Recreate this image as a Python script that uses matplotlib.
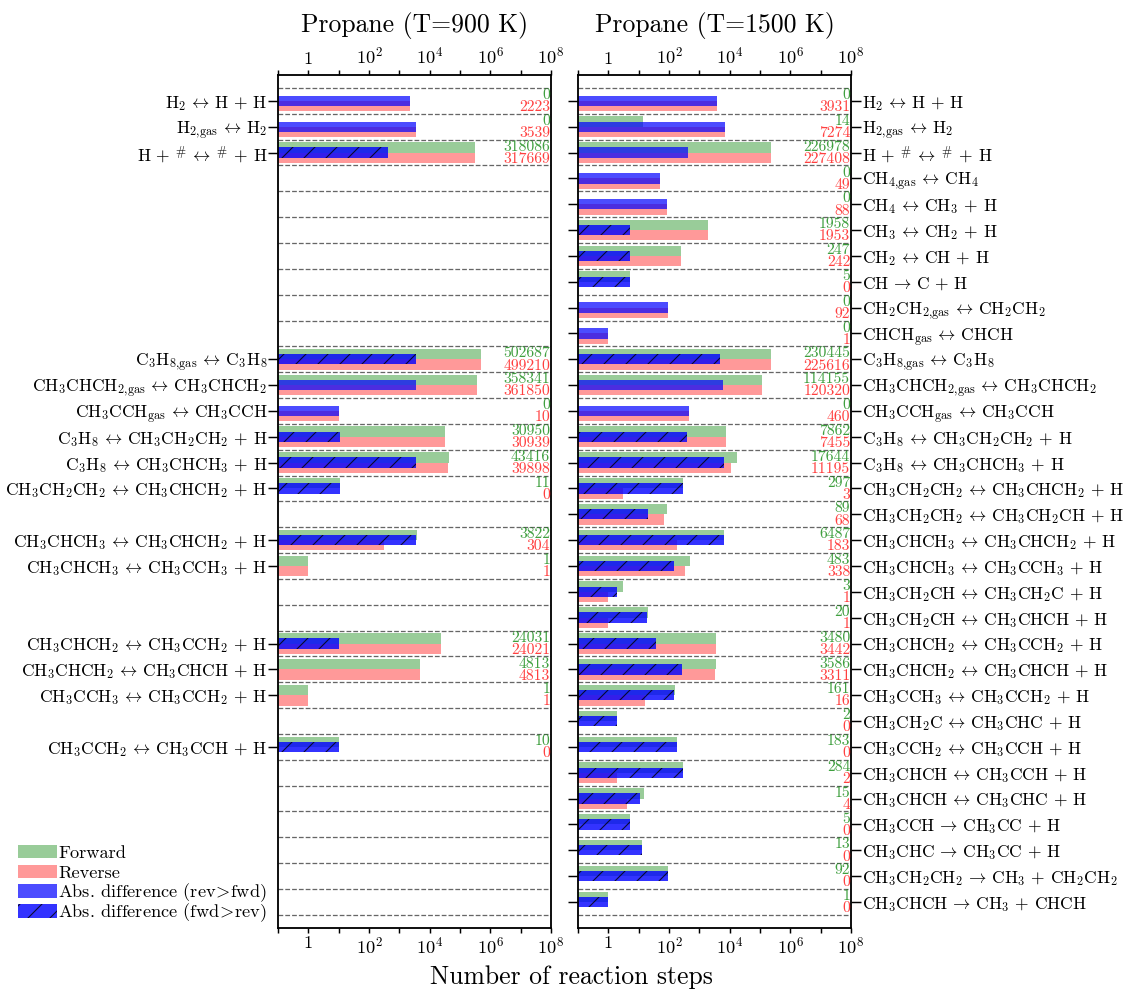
import numpy as np
import matplotlib
matplotlib.use('Agg')
import matplotlib.pyplot as plt
from matplotlib.patches import Patch
from matplotlib.ticker import FixedLocator, FixedFormatter, NullLocator
from matplotlib.transforms import blended_transform_factory

plt.rcParams['font.family'] = 'serif'
plt.rcParams['font.serif'] = ['cmr10']
plt.rcParams['mathtext.fontset'] = 'cm'
plt.rcParams['axes.formatter.use_mathtext'] = True
plt.rcParams['hatch.linewidth'] = 0.6

reactions = [
    r'H$_2$$\,\leftrightarrow\,$H + H',
    r'H$_{2{,}\mathrm{gas}}$$\,\leftrightarrow\,$H$_2$',
    r'H + $^\#$$\,\leftrightarrow\,$$^\#$ + H',
    r'CH$_{4{,}\mathrm{gas}}$$\,\leftrightarrow\,$CH$_4$',
    r'CH$_4$$\,\leftrightarrow\,$CH$_3$ + H',
    r'CH$_3$$\,\leftrightarrow\,$CH$_2$ + H',
    r'CH$_2$$\,\leftrightarrow\,$CH + H',
    r'CH$\,\rightarrow\,$C + H',
    r'CH$_2$CH$_{2{,}\mathrm{gas}}$$\,\leftrightarrow\,$CH$_2$CH$_2$',
    r'CHCH$_\mathrm{gas}$$\,\leftrightarrow\,$CHCH',
    r'C$_3$H$_{8{,}\mathrm{gas}}$$\,\leftrightarrow\,$C$_3$H$_8$',
    r'CH$_3$CHCH$_{2{,}\mathrm{gas}}$$\,\leftrightarrow\,$CH$_3$CHCH$_2$',
    r'CH$_3$CCH$_\mathrm{gas}$$\,\leftrightarrow\,$CH$_3$CCH',
    r'C$_3$H$_8$$\,\leftrightarrow\,$CH$_3$CH$_2$CH$_2$ + H',
    r'C$_3$H$_8$$\,\leftrightarrow\,$CH$_3$CHCH$_3$ + H',
    r'CH$_3$CH$_2$CH$_2$$\,\leftrightarrow\,$CH$_3$CHCH$_2$ + H',
    r'CH$_3$CH$_2$CH$_2$$\,\leftrightarrow\,$CH$_3$CH$_2$CH + H',
    r'CH$_3$CHCH$_3$$\,\leftrightarrow\,$CH$_3$CHCH$_2$ + H',
    r'CH$_3$CHCH$_3$$\,\leftrightarrow\,$CH$_3$CCH$_3$ + H',
    r'CH$_3$CH$_2$CH$\,\leftrightarrow\,$CH$_3$CH$_2$C + H',
    r'CH$_3$CH$_2$CH$\,\leftrightarrow\,$CH$_3$CHCH + H',
    r'CH$_3$CHCH$_2$$\,\leftrightarrow\,$CH$_3$CCH$_2$ + H',
    r'CH$_3$CHCH$_2$$\,\leftrightarrow\,$CH$_3$CHCH + H',
    r'CH$_3$CCH$_3$$\,\leftrightarrow\,$CH$_3$CCH$_2$ + H',
    r'CH$_3$CH$_2$C$\,\leftrightarrow\,$CH$_3$CHC + H',
    r'CH$_3$CCH$_2$$\,\leftrightarrow\,$CH$_3$CCH + H',
    r'CH$_3$CHCH$\,\leftrightarrow\,$CH$_3$CCH + H',
    r'CH$_3$CHCH$\,\leftrightarrow\,$CH$_3$CHC + H',
    r'CH$_3$CCH$\,\rightarrow\,$CH$_3$CC + H',
    r'CH$_3$CHC$\,\rightarrow\,$CH$_3$CC + H',
    r'CH$_3$CH$_2$CH$_2$$\,\rightarrow\,$CH$_3$ + CH$_2$CH$_2$',
    r'CH$_3$CHCH$\,\rightarrow\,$CH$_3$ + CHCH',
]

nan = np.nan
# T = 900 K (nan = reaction not seen)
fwd_900 = [0, 0, 318086, nan, nan, nan, nan, nan, nan, nan,
           502687, 358341, 0, 30950, 43416, 11, nan, 3822, 1, nan,
           nan, 24031, 4813, 1, nan, 10, nan, nan, nan, nan, nan, nan]
rev_900 = [2223, 3539, 317669, nan, nan, nan, nan, nan, nan, nan,
           499210, 361850, 10, 30939, 39898, 0, nan, 304, 1, nan,
           nan, 24021, 4813, 1, nan, 0, nan, nan, nan, nan, nan, nan]
# T = 1500 K
fwd_1500 = [0, 14, 226978, 0, 0, 1958, 247, 5, 0, 0,
            230445, 114155, 0, 7862, 17644, 297, 89, 6487, 483, 3,
            20, 3480, 3586, 161, 2, 183, 284, 15, 5, 13, 92, 1]
rev_1500 = [3931, 7274, 227408, 49, 88, 1953, 242, 0, 92, 1,
            225616, 120320, 460, 7455, 11195, 3, 68, 183, 338, 1,
            1, 3442, 3311, 16, 0, 0, 2, 4, 0, 0, 0, 0]

titles = ['Propane (T=900 K)', 'Propane (T=1500 K)']

DPI = 132
fig = plt.figure(figsize=(1124 / DPI, 990 / DPI), dpi=DPI)
ax1 = fig.add_axes([0.2473, 0.0629, 0.2429, 0.8613])
ax2 = fig.add_axes([0.5142, 0.0629, 0.2429, 0.8613])

xt = [10.0 ** k for k in range(-1, 9)]
xl = ['' if (k < 0 or k % 2) else ('1' if k == 0 else r'$10^{%d}$' % k) for k in range(-1, 9)]


def draw_panel(ax, fwd, rev, title):
    fwd = np.array(fwd, dtype=float)
    rev = np.array(rev, dtype=float)
    y = np.arange(len(fwd))
    seen = ~np.isnan(fwd)
    diff = np.abs(fwd - rev)

    for k in range(-1, len(fwd)):
        ax.axhline(k + 0.5, ls='--', color='0.4', lw=0.7, zorder=0)

    m = seen & (fwd > 0)
    ax.barh(y[m] - 0.2, fwd[m], height=0.4, left=0.01, color='green', alpha=0.4, lw=0)
    m = seen & (rev > 0)
    ax.barh(y[m] + 0.2, rev[m], height=0.4, left=0.01, color='red', alpha=0.4, lw=0)
    m = seen & (rev > fwd)
    ax.barh(y[m], diff[m], height=0.4, left=0.01, color='blue', alpha=0.7, lw=0)
    m = seen & (fwd > rev)
    ax.barh(y[m], diff[m], height=0.4, left=0.01, facecolor='blue', alpha=0.8,
            edgecolor='black', lw=0, hatch='//')

    tr = blended_transform_factory(ax.transAxes, ax.transData)
    for i in y[seen]:
        ax.text(0.997, i - 0.22, '%d' % fwd[i], transform=tr, ha='right', va='center',
                color='green', alpha=0.75, fontsize=8.6)
        ax.text(0.997, i + 0.25, '%d' % rev[i], transform=tr, ha='right', va='center',
                color='red', alpha=0.75, fontsize=8.6)

    ax.set_xscale('log')
    ax.set_xlim(0.1, 1e8)
    ax.set_ylim(32, -1)
    ax.xaxis.set_major_locator(FixedLocator(xt))
    ax.xaxis.set_major_formatter(FixedFormatter(xl))
    ax.xaxis.set_minor_locator(NullLocator())
    ax.tick_params(axis='x', top=True, labeltop=True, bottom=True, labelbottom=True,
                   direction='out', length=2.5, width=0.8, labelsize=10, pad=2)
    ax.set_yticks(y[seen])
    ax.set_yticklabels([reactions[i] for i in y[seen]])
    ax.tick_params(axis='y', direction='out', length=5.5, width=0.8, labelsize=9.5, pad=0.3)
    for s in ax.spines.values():
        s.set_linewidth(1.0)
    ax.set_title(title, fontsize=14, pad=8)


draw_panel(ax1, fwd_900, rev_900, titles[0])
draw_panel(ax2, fwd_1500, rev_1500, titles[1])
ax2.tick_params(axis='y', left=True, right=True, labelleft=False, labelright=True)

fig.text(0.5085, 0.006, 'Number of reaction steps', ha='center', va='baseline', fontsize=14)

# legend: one row per entry so that rows stay evenly spaced
handles = [
    Patch(facecolor='green', alpha=0.4, lw=0),
    Patch(facecolor='red', alpha=0.4, lw=0),
    Patch(facecolor='blue', alpha=0.7, lw=0),
    Patch(facecolor='blue', alpha=0.8, edgecolor='black', lw=0, hatch='//'),
]
labels = ['Forward', 'Reverse', r'Abs. difference (rev$\!>\!$fwd)', r'Abs. difference (fwd$\!>\!$rev)']
for n, (h, lab) in enumerate(zip(handles, labels)):
    fig.legend([h], [lab], loc='center left', bbox_to_anchor=(18 / 1124, 1 - (853 + 20 * n) / 990),
               frameon=False, fontsize=10, handlelength=2.15, handleheight=0.75,
               handletextpad=0.05, borderpad=0, borderaxespad=0)

fig.savefig('out.png', dpi=DPI)
